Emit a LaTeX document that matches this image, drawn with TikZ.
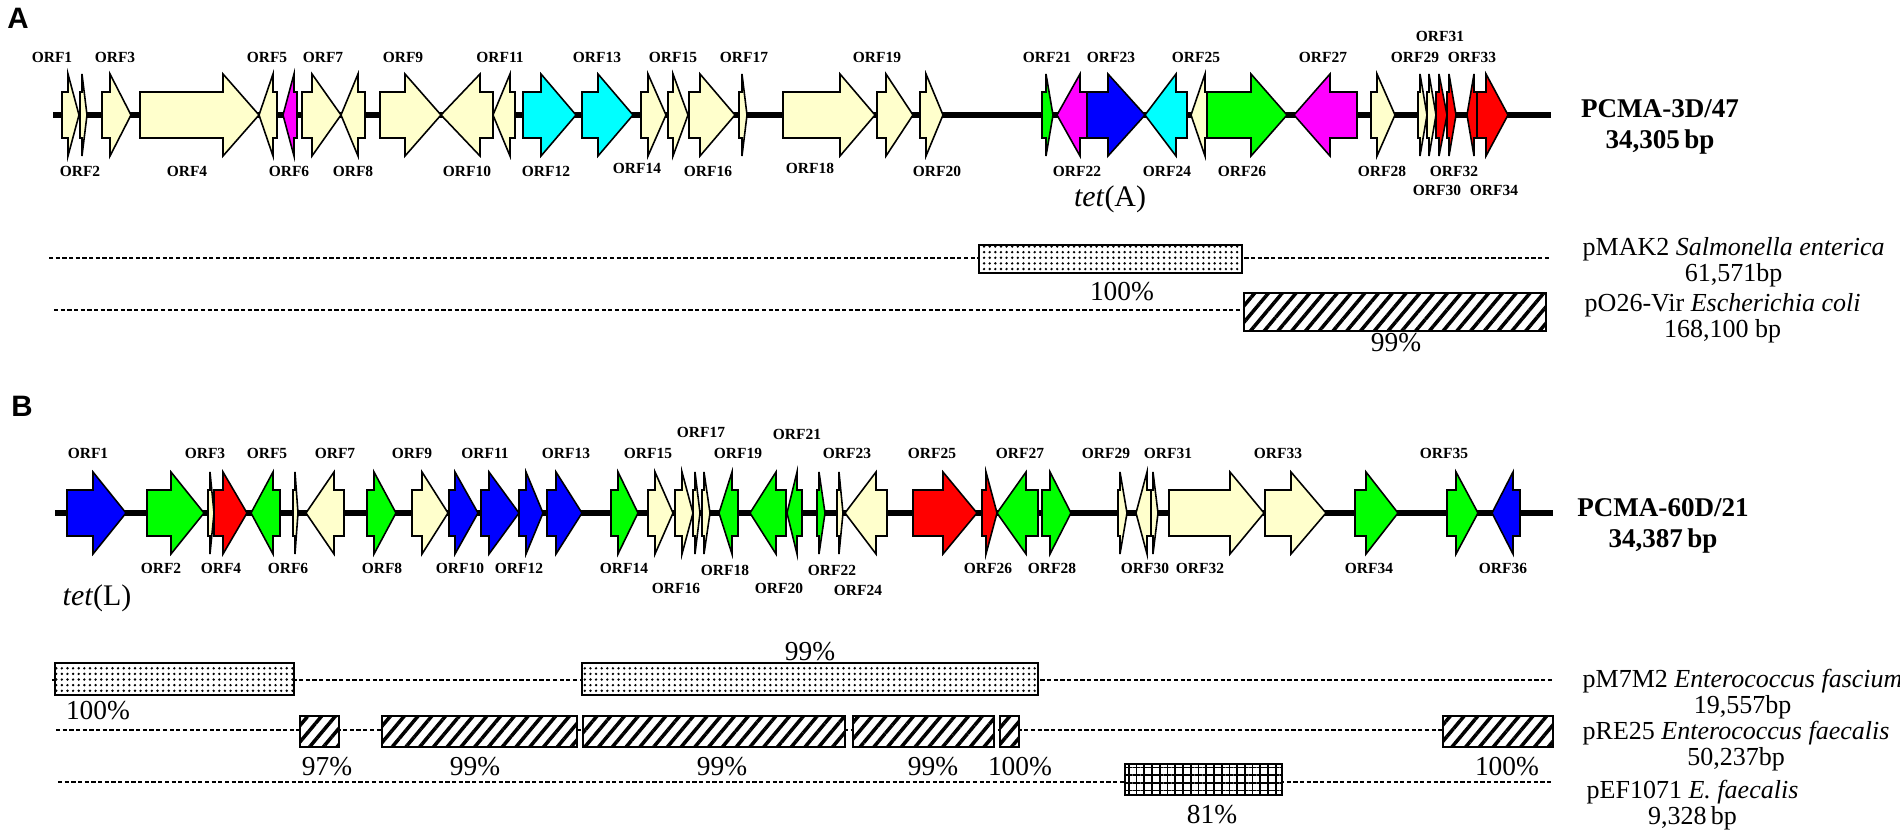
\documentclass[tikz,border=0pt]{standalone}
\usepackage{fontspec}
\setmainfont{Liberation Serif}
\newfontfamily\panelfont{Liberation Sans}
\usetikzlibrary{patterns.meta}
\definecolor{cream}{RGB}{255,255,204}
\definecolor{orfcyan}{RGB}{0,255,255}
\definecolor{orfmagenta}{RGB}{255,0,255}
\definecolor{orfblue}{RGB}{0,0,255}
\definecolor{orfgreen}{RGB}{0,255,0}
\definecolor{orfred}{RGB}{255,0,0}
\tikzset{gene/.style = {draw=black, line width=0.45pt, line join=miter},
         backbone/.style = {line width=1.7pt},
         dashline/.style = {line width=0.6pt, dash pattern=on 1.2pt off 0.7pt},
         hitbox/.style = {draw=black, line width=0.7pt, fill=white},
         dotfill/.style = {postaction={pattern={Dots[distance=1.6pt,radius=0.38pt]}}},
         slashfill/.style = {postaction={pattern={Lines[angle=50,distance=3pt,line width=1pt]}}},
         gridfill/.style = {postaction={pattern={Hatch[angle=0,distance=2.2pt,line width=0.5pt]}}},
         orflabel/.style = {font=\bfseries\fontsize{4.4}{5}\selectfont, inner sep=0pt},
         pct/.style = {font=\fontsize{7.8}{8}\selectfont, inner sep=0pt},
         plasmid/.style = {font=\fontsize{7.4}{7.4}\selectfont, align=center, anchor=west, inner sep=0pt},
         isolate/.style = {font=\bfseries\fontsize{7.7}{8.8}\selectfont, align=center, inner sep=0pt},
         panel/.style = {font=\panelfont\bfseries\fontsize{8.4}{9}\selectfont, inner sep=0pt},
         tetlabel/.style = {font=\fontsize{8.5}{9}\selectfont, inner sep=0pt}}
% #1 backbone, #2 start, #3 head base, #4 tip, #5 colour
\newcommand{\gene}[5]{%
  \filldraw[gene, fill=#5] (#2,#1-23) -- (#3,#1-23) -- (#3,#1-41) -- (#4,#1)
    -- (#3,#1+41) -- (#3,#1+23) -- (#2,#1+23) -- cycle;}

\begin{document}
\begin{tikzpicture}[x=0.1mm, y=-0.1mm]
      \useasboundingbox (0,0) rectangle (1900,837);

      % panel A
      \node[panel] (pA) at (18,18) {A};
      \draw[backbone] (53,115) -- (1551,115);
      \foreach \s/\h/\t/\c in {62/68/79/cream, 80/82/87/cream, 102/110/131/cream,
          140/223/259/cream, 277/273/259/cream, 297/294/283/orfmagenta,
          302/312/341/cream, 365/358/341/cream, 380/405/441/cream,
          493/480/441/cream, 515/510/493/cream, 523/541/576/orfcyan,
          582/598/633/orfcyan, 641/648/666/cream, 668/673/688/cream,
          689/700/735/cream, 739/742/747/cream, 783/840/875/cream,
          877/886/913/cream, 920/926/943/cream, 1042/1046/1053/orfgreen,
          1087/1080/1057/orfmagenta, 1087/1108/1145/orfblue, 1187/1176/1145/orfcyan,
          1207/1205/1191/cream, 1207/1251/1287/orfgreen, 1357/1330/1294/orfmagenta,
          1371/1377/1395/cream, 1418/1420/1427/cream, 1427/1429/1436/cream,
          1436/1439/1447/orfred, 1447/1449/1456/orfred, 1477/1474/1467/orfred,
          1477/1486/1508/orfred} {
        \gene{115}{\s}{\h}{\t}{\c}
      }
      \foreach \n/\x/\y in {1/52/57, 2/80/171, 3/115/57, 4/187/171, 5/267/57,
          6/289/171, 7/323/57, 8/353/171, 9/403/57, 10/467/171, 11/500/57,
          12/546/171, 13/597/57, 14/637/168, 15/673/57, 16/708/171, 17/744/57,
          18/810/168, 19/877/57, 20/937/171, 21/1047/57, 22/1077/171, 23/1111/57,
          24/1167/171, 25/1196/57, 26/1242/171, 27/1323/57, 28/1382/171,
          29/1415/57, 30/1437/190, 31/1440/36, 32/1454/171, 33/1472/57, 34/1494/190}
        \node[orflabel] (a\n) at (\x,\y) {ORF\n};
      \node[tetlabel] (tetA) at (1110,199) {\textit{tet}(A)};
      \node[isolate] (isoA) at (1660,127) {PCMA-3D/47\\34,305\,bp};

      \draw[dashline] (49,258) -- (1550,258);
      \draw[hitbox, dotfill] (979,245) rectangle (1242,273);
      \node[pct] (pa1) at (1122,292) {100\%};
      \draw[dashline] (54,310) -- (1244,310);
      \draw[hitbox, slashfill] (1244,293) rectangle (1546,331);
      \node[pct] (pa2) at (1396,343) {99\%};
      \node[plasmid] (mak2) at (1582,262) {pMAK2 \textit{Salmonella enterica}\\61,571bp};
      \node[plasmid] (o26) at (1584,318) {pO26-Vir \textit{Escherichia coli}\\168,100 bp};

      % panel B
      \node[panel] (pB) at (22,406) {B};
      \draw[backbone] (55,513) -- (1553,513);
      \foreach \s/\h/\t/\c in {67/93/126/orfblue, 147/171/204/orfgreen, 208/210/214/cream,
          214/223/247/orfred, 280/273/251/orfgreen, 293/295/298/cream,
          344/334/306/cream, 367/374/396/orfgreen, 412/422/448/cream,
          449/455/478/orfblue, 481/489/519/orfblue, 519/526/543/orfblue,
          547/556/582/orfblue, 611/618/638/orfgreen, 648/655/673/cream,
          675/682/693/cream, 693/695/700/cream, 702/704/710/cream,
          738/732/719/orfgreen, 786/776/750/orfgreen, 802/797/787/orfgreen,
          817/819/825/orfgreen, 837/839/843/cream, 887/876/845/cream,
          913/943/977/orfred, 982/986/997/orfred, 1038/1026/997/orfgreen,
          1042/1050/1071/orfgreen, 1118/1120/1127/cream, 1151/1147/1136/cream,
          1151/1153/1158/cream, 1169/1230/1264/cream, 1265/1291/1326/cream,
          1355/1366/1398/orfgreen, 1447/1456/1478/orfgreen, 1520/1513/1492/orfblue} {
        \gene{513}{\s}{\h}{\t}{\c}
      }
      \foreach \n/\x/\y in {1/88/453, 2/161/568, 3/205/453, 4/221/568, 5/267/453,
          6/288/568, 7/335/453, 8/382/568, 9/412/453, 10/460/568, 11/485/453,
          12/519/568, 13/566/453, 14/624/568, 15/648/453, 16/676/588, 17/701/432,
          18/725/570, 19/738/453, 20/779/588, 21/797/434, 22/832/570, 23/847/453,
          24/858/590, 25/932/453, 26/988/568, 27/1020/453, 28/1052/568,
          29/1106/453, 30/1145/568, 31/1168/453, 32/1200/568, 33/1278/453,
          34/1369/568, 35/1444/453, 36/1503/568}
        \node[orflabel] (b\n) at (\x,\y) {ORF\n};
      \node[tetlabel] (tetL) at (97,598) {\textit{tet}(L)};
      \node[isolate] (isoB) at (1663,526) {PCMA-60D/21\\34,387\,bp};

      \draw[dashline] (52,680) -- (1553,680);
      \draw[hitbox, dotfill] (55,663) rectangle (294,695);
      \draw[hitbox, dotfill] (582,663) rectangle (1038,695);
      \node[pct] (pb1) at (98,711) {100\%};
      \node[pct] (pb2) at (810,652) {99\%};

      \draw[dashline] (56,730) -- (1553,730);
      \foreach \l/\r in {300/339, 382/577, 583/845, 853/994, 1000/1019, 1443/1553}
        \draw[hitbox, slashfill] (\l,716) rectangle (\r,747);
      \foreach \n/\x/\p in {1/327/97, 2/475/99, 3/722/99, 4/933/99, 5/1020/100, 6/1507/100}
        \node[pct] (pr\n) at (\x,767) {\p\%};

      \draw[dashline] (58,782) -- (1553,782);
      \draw[hitbox, gridfill] (1125,764) rectangle (1282,795);
      \node[pct] (pe1) at (1212,815) {81\%};

      \node[plasmid] (m7m2) at (1582,694) {pM7M2 \textit{Enterococcus fascium}\\19,557bp};
      \node[plasmid] (re25) at (1582,746) {pRE25 \textit{Enterococcus faecalis}\\50,237bp};
      \node[plasmid] (ef1071) at (1586,805) {pEF1071 \textit{E. faecalis}\\9,328\,bp};
\end{tikzpicture}
\end{document}
